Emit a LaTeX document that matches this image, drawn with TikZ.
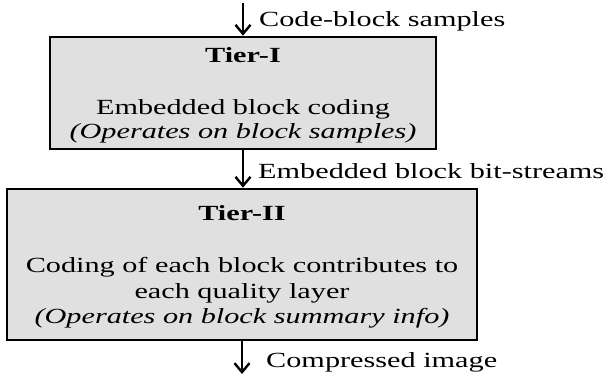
\documentclass[tikz,border=0pt]{standalone}
\usepackage{fontspec}
\setmainfont{Liberation Serif}[FakeStretch=1.4]
\usetikzlibrary{arrows.meta}
\definecolor{boxfill}{RGB}{224,224,224}
\begin{document}
\begin{tikzpicture}[x=1pt,y=-1pt,
  tierbox/.style={draw=black,line width=2.6pt,fill=boxfill,inner sep=0pt},
  txt/.style={anchor=base,inner sep=0pt,font=\fontsize{21.6}{26}\selectfont},
  flow/.style={line width=2.6pt,-{Straight Barb[length=9pt,width=15pt,line width=2.4pt]}}]
\useasboundingbox (0,0) rectangle (612,376);
\node[tierbox,minimum width=386pt,minimum height=112pt] (b1) at (243,93) {};
\node[tierbox,minimum width=470pt,minimum height=151pt] (b2) at (242,264.5) {};
\coordinate (top) at (243,3);
\coordinate (bot) at (242,374);
\node[txt] (t1a) at (243,62) {\bfseries Tier-I};
\node[txt] (t1b) at (243,114) {Embedded block coding};
\node[txt] (t1c) at (243,138) {\itshape (Operates on block samples)};
\node[txt] (t2a) at (242,220.5) {\bfseries Tier-II};
\node[txt] (t2b) at (242,272) {Coding of each block contributes to};
\node[txt] (t2c) at (242,298) {each quality layer};
\node[txt] (t2d) at (242,323) {\itshape (Operates on block summary info)};
\node[txt,anchor=base west] (l1) at (259,26) {Code-block samples};
\node[txt,anchor=base west] (l2) at (258,178) {Embedded block bit-streams};
\node[txt,anchor=base west] (l3) at (266,367) {Compressed image};
\draw[flow] (top) -- (b1.north);
\draw[flow] (b1.south) -- (b1.south |- b2.north);
\draw[flow] (b2.south) -- (bot);
\end{tikzpicture}
\end{document}
